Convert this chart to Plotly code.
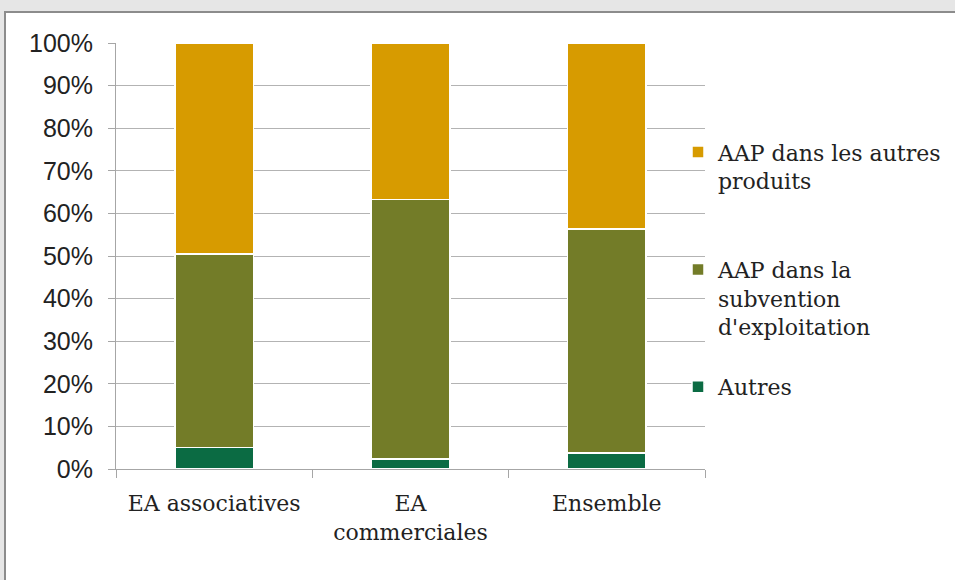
import plotly.graph_objects as go

# values (share of total, %)
categories = ["EA associatives", "EA<br>commerciales", "Ensemble"]
autres = [5.0, 2.3, 3.8]
aap_subvention = [45.5, 61.0, 52.5]
aap_autres_produits = [49.5, 36.7, 43.7]

names = ["Autres",
         "AAP dans la<br>subvention<br>d'exploitation<br>\u00a0",
         "AAP dans les autres<br>produits<br>\u00a0<br>\u00a0"]
colors = ["#0b6b43", "#737c28", "#d79b00"]

fig = go.Figure()
for vals, nm, col in zip([autres, aap_subvention, aap_autres_produits], names, colors):
    fig.add_trace(go.Bar(x=categories, y=vals, name=nm,
                         marker=dict(color=col, line=dict(color="white", width=1.5))))

L, R, T, B = 116, 250, 43, 111
W, H = 955, 580
pw, ph = W - L - R, H - T - B

fig.update_layout(
    width=W, height=H,
    barmode="stack", bargap=0.6,
    margin=dict(l=L, r=R, t=T, b=B, pad=0, autoexpand=False),
    paper_bgcolor="#e6e6e6", plot_bgcolor="white",
    font=dict(family="DejaVu Serif", size=22, color="#222222"),
    legend=dict(x=(678 - L) / pw, xanchor="left", y=0.793, yanchor="top",
                traceorder="reversed", valign="top",
                bgcolor="rgba(0,0,0,0)", font=dict(size=22)),
    shapes=[dict(type="rect", xref="paper", yref="paper", layer="below",
                 x0=(5 - L) / pw, x1=(1000 - L) / pw,
                 y0=(H - B - 620) / ph, y1=(H - B - 12) / ph,
                 fillcolor="white", line=dict(color="#8c8c8c", width=2))],
)
fig.update_yaxes(range=[0, 100], dtick=10, ticksuffix="%",
                 showline=True, linecolor="#a6a6a6", linewidth=1,
                 gridcolor="#b3b3b3", gridwidth=1,
                 ticks="outside", ticklen=7, tickcolor="#a6a6a6",
                 ticklabelstandoff=10,
                 tickfont=dict(family="Liberation Sans", size=25, color="#222222"),
                 zeroline=False)
fig.update_xaxes(showline=True, linecolor="#a6a6a6", linewidth=1,
                 ticks="outside", ticklen=8, tickcolor="#a6a6a6",
                 tickson="boundaries", ticklabelstandoff=15,
                 tickfont=dict(family="DejaVu Serif", size=22, color="#222222"))

fig.write_html("out.html", config={"displayModeBar": False},
               post_script="document.body.style.margin='0';"
                           "document.body.style.overflow='hidden';"
                           "document.documentElement.style.overflow='hidden';"
                           "document.body.style.background='#e6e6e6';")
